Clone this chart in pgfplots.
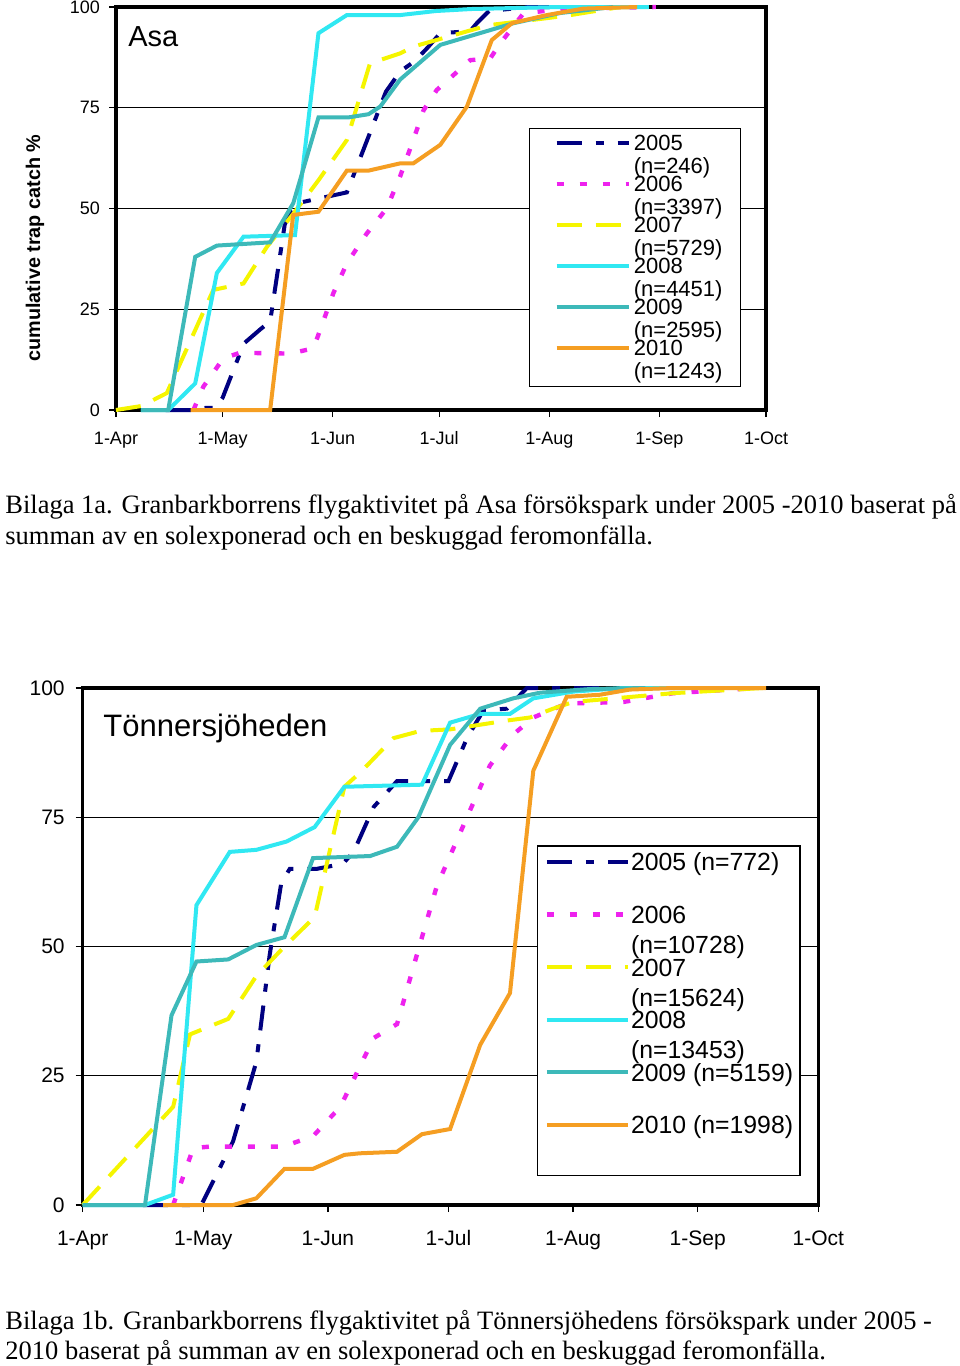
\documentclass[border=0pt]{standalone}
\usepackage{pgfplots}
\pgfplotsset{compat=1.18}
\usepackage{fontspec}
\setmainfont{Liberation Sans}
\newfontfamily\timesfont{Liberation Serif}
\definecolor{c05}{HTML}{000080}
\definecolor{c06}{HTML}{EE22EE}
\definecolor{c07}{HTML}{F5F500}
\definecolor{c08}{HTML}{30E8F2}
\definecolor{c09}{HTML}{3DB9B9}
\definecolor{c10}{HTML}{F59E22}
\pgfplotsset{
  base/.style={scale only axis, clip=false,
    xmin=0, xmax=183, ymin=0, ymax=100,
    xtick={0,30,61,91,122,153,183},
    xticklabels={1-Apr,1-May,1-Jun,1-Jul,1-Aug,1-Sep,1-Oct},
    ytick={0,25,50,75,100},
    ymajorgrids, grid style={black, line width=0.7bp},
    axis line style={line width=1.6bp},
    tick style={black, line width=0.7bp},
    tick align=outside, major tick length=3.5bp, tick pos=left,
    /pgf/number format/assume math mode=true,
    legend cell align=left},
  s05/.style={c05, line width=2bp, dash pattern=on 12.5bp off 7bp on 4bp off 7bp},
  s06/.style={c06, line width=2.2bp, dash pattern=on 3.5bp off 8bp},
  s07/.style={c07, line width=2bp, dash pattern=on 12.5bp off 7bp},
  s08/.style={c08, line width=2bp},
  s09/.style={c09, line width=2bp},
  s10/.style={c10, line width=2bp},
}
\begin{document}
\begin{tikzpicture}
\path[use as bounding box] (0,0) rectangle (480bp,-683bp);
% ---------------- Asa ----------------
\begin{axis}[base, at={(58bp,-205bp)}, anchor=south west, width=325bp, height=201.5bp,
  tick label style={font=\fontsize{9bp}{10bp}\selectfont},
  xticklabel style={yshift=-3.5bp, text height=6.6bp, text depth=0bp}, yticklabel style={xshift=-1bp},
  legend image code/.code={\path (0bp,6.2bp); \draw[#1] (3.5bp,6.2bp) -- (39.5bp,6.2bp);},
  legend style={at={(0.635,0.700)}, anchor=north west, draw=black, line width=0.7bp,
    fill=white, inner xsep=9bp, inner ysep=3bp, row sep=0bp, column sep=1.5bp,
    font=\fontsize{11bp}{11.5bp}\selectfont,
    nodes={inner sep=0pt, text height=8bp, text depth=12.5bp}}]
\addplot[s05] coordinates {(14,0) (21,0) (25,0.5) (28,0.5) (30,3) (36,16.5) (40.6,20) (43.4,22) (47.5,46) (49,49) (52,51.5) (65,54) (76,79) (80,84) (84,86.5) (87.5,89.7) (91.3,93.5) (99.7,94) (101.6,96) (105,99) (116,100) (130,100)};
\addlegendentry{\vtop{\baselineskip=11.5bp\hbox{2005}\hbox{(n=246)}}}
\addplot[s06] coordinates {(21.8,0) (24.6,5.8) (30.2,12.8) (34.9,14.2) (49,14) (55.6,15.3) (61.2,29) (65,36.4) (70.6,43.8) (76.2,50) (80,58) (83.7,67) (86.6,74.4) (90.3,79.4) (99.7,86.8) (105.4,87.3) (108.2,91) (114.7,98.4) (126,99.6) (152,100)};
\addlegendentry{\vtop{\baselineskip=11.5bp\hbox{2006}\hbox{(n=3397)}}}
\addplot[s07] coordinates {(0,0) (7.2,1) (14.3,4.2) (27.4,29.8) (35.9,31.4) (42.5,40.5) (50,48.8) (57,57) (65,67) (71.5,86) (80,88.5) (83.8,90.2) (105,95.5) (121,97.2) (128,98) (142,100)};
\addlegendentry{\vtop{\baselineskip=11.5bp\hbox{2007}\hbox{(n=5729)}}}
\addplot[s08] coordinates {(7,0) (14.7,0) (22.3,6.6) (28.4,34) (35.9,43) (50.4,43.4) (57,93.5) (65,98) (80,98) (90,99) (100,99.5) (125,100) (150,100)};
\addlegendentry{\vtop{\baselineskip=11.5bp\hbox{2008}\hbox{(n=4451)}}}
\addplot[s09] coordinates {(7,0) (14.7,0) (22.3,38) (28.4,40.8) (43.4,41.6) (49.9,51.3) (57,72.6) (65.4,72.6) (71.1,73.4) (74.4,75.3) (80,82) (91.3,90.6) (112,96) (125,98.5) (140,100)};
\addlegendentry{\vtop{\baselineskip=11.5bp\hbox{2009}\hbox{(n=2595)}}}
\addplot[s10] coordinates {(21,0) (43.4,0) (49.9,48.4) (57,49.2) (65,59.4) (71.1,59.4) (80,61.2) (83.7,61.2) (91.3,65.8) (98.8,75.3) (105.8,91.8) (111.5,96) (121.3,98) (131.6,99.6) (146.7,100)};
\addlegendentry{\vtop{\baselineskip=11.5bp\hbox{2010}\hbox{(n=1243)}}}
\end{axis}
\node[anchor=west, font=\fontsize{14.5bp}{17bp}\selectfont, inner sep=0pt] at (64bp,-18.5bp) {Asa};
\node[rotate=90, font=\bfseries\fontsize{9.9bp}{11bp}\selectfont] at (17.5bp,-124bp) {cumulative trap catch \%};
\node[anchor=base west, font=\timesfont\fontsize{13.25bp}{15bp}\selectfont, inner sep=0pt] at (2.5bp,-256.5bp) {Bilaga 1a. Granbarkborrens flygaktivitet på Asa försökspark under 2005 -2010 baserat på};
\node[anchor=base west, font=\timesfont\fontsize{13.25bp}{15bp}\selectfont, inner sep=0pt] at (2.5bp,-272bp) {summan av en solexponerad och en beskuggad feromonfälla.};
% ---------------- Tönnersjöheden ----------------
\begin{axis}[base, at={(41.35bp,-602.5bp)}, anchor=south west, width=367.8bp, height=258.5bp,
  tick label style={font=\fontsize{10.5bp}{12bp}\selectfont},
  xticklabel style={yshift=-5.5bp, text height=7.7bp, text depth=0bp}, yticklabel style={xshift=-2bp},
  legend image code/.code={\path (0bp,8.6bp); \draw[#1] (0bp,8.6bp) -- (40.5bp,8.6bp);},
  legend style={at={(0.6176,0.696)}, anchor=north west, draw=black, line width=0.7bp,
    fill=white, inner xsep=3.5bp, inner ysep=3.5bp, row sep=0bp, column sep=0.5bp,
    font=\fontsize{12.4bp}{15bp}\selectfont,
    nodes={inner sep=0pt, text height=9bp, text depth=17.3bp}}]
\addplot[s05] coordinates {(15,0) (29.5,0) (37.4,12.3) (43.2,27.7) (46.5,48.3) (49.4,62.3) (51.5,65) (58.1,65) (64.7,66) (67.4,68.3) (72.4,77) (78.2,82) (86.4,82) (91,82) (95.6,90.3) (99.7,95.7) (105.5,96) (110.5,100) (130,100)};
\addlegendentry{2005 (n=772)}
\addplot[s06] coordinates {(22.5,0) (27.5,11) (31.6,11.3) (49.8,11.3) (57.3,13.3) (64.1,19) (72.4,32.3) (78.2,35) (83.1,48.3) (88.1,61.7) (95.6,75) (101.3,85) (107.1,91) (112.1,94.3) (120.4,97) (134.5,97.3) (146.9,99) (167.6,100)};
\addlegendentry{\vtop{\baselineskip=15bp\hbox{2006}\hbox{(n=10728)}}}
\addplot[s07] coordinates {(0,0) (22.5,19) (26.7,33) (30.8,34.3) (36.2,36) (43.2,44.3) (50.2,50) (57.7,55.7) (65.1,80.9) (69.1,83.7) (77.3,90.3) (84,91.7) (91.4,92) (105.5,93.7) (111.3,94.3) (117,96) (122,97.3) (146.9,99) (169.2,100)};
\addlegendentry{\vtop{\baselineskip=15bp\hbox{2007}\hbox{(n=15624)}}}
\addplot[s08] coordinates {(0,0) (15.5,0) (22.5,2) (28.3,58) (36.6,68.3) (43.2,68.7) (50.7,70.3) (57.7,73.1) (65.1,80.9) (84.4,81.3) (91.4,93.3) (98.9,95) (106.3,95) (112.1,98) (122,99.3) (134.5,100) (150,100)};
\addlegendentry{\vtop{\baselineskip=15bp\hbox{2008}\hbox{(n=13453)}}}
\addplot[s09] coordinates {(0,0) (15.5,0) (22.1,36.7) (28.3,47.1) (36.2,47.5) (43.2,50.3) (50.2,51.8) (57.3,67.1) (71.5,67.5) (78.2,69.3) (83.5,75) (91.4,89) (98.9,96) (107.1,98) (113.8,99.1) (126.2,99.8) (140,100)};
\addlegendentry{2009 (n=5159)}
\addplot[s10] coordinates {(20,0) (37.4,0) (43.2,1.3) (50.2,7) (57.3,7) (65.1,9.7) (68.9,10) (78.2,10.3) (84.4,13.7) (91.4,14.7) (98.9,31) (106.3,41) (112.1,84) (120.4,98.3) (128.7,98.7) (136.1,99.7) (146.9,100) (170,100)};
\addlegendentry{2010 (n=1998)}
\end{axis}
\node[anchor=west, font=\fontsize{15.5bp}{18bp}\selectfont, inner sep=0pt] at (51.5bp,-364bp) {Tönnersjöheden};
\node[anchor=base west, font=\timesfont\fontsize{13.25bp}{15bp}\selectfont, inner sep=0pt] at (2.5bp,-664.5bp) {Bilaga 1b. Granbarkborrens flygaktivitet på Tönnersjöhedens försökspark under 2005 -};
\node[anchor=base west, font=\timesfont\fontsize{13.25bp}{15bp}\selectfont, inner sep=0pt] at (2.5bp,-679.5bp) {2010 baserat på summan av en solexponerad och en beskuggad feromonfälla.};
\end{tikzpicture}
\end{document}
